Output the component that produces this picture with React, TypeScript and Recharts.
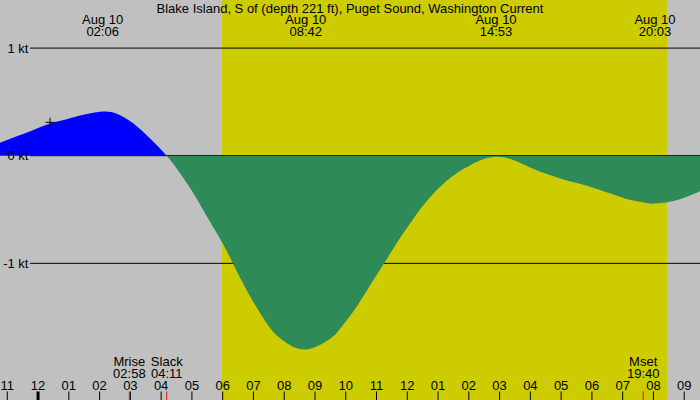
import React from 'react';
import {
  ComposedChart,
  Area,
  XAxis,
  YAxis,
  CartesianGrid,
  ReferenceDot,
} from 'recharts';

const TITLE = 'Blake Island, S of (depth 221 ft), Puget Sound, Washington Current';
const DATE_LABEL = 'Aug 10';

// hours since midnight Aug 10
const TIMES = [
  -1.24, -0.69, -0.15, 0.39, 0.93, 1.47, 2.1, 2.56, 3.1, 3.64, 4.18, 4.61, 5.05, 5.48,
  5.97, 6.35, 6.78, 7.21, 7.54, 7.97, 8.71, 9.49, 9.81, 10.36, 10.9, 11.25, 11.66, 12.09,
  12.52, 13.06, 13.61, 14.04, 14.36, 14.88, 15.45, 15.99, 16.53, 17.07, 17.61, 18.16,
  18.7, 19.24, 19.78, 20.05, 20.65, 21.19, 21.52,
];
// current speed, knots
const SPEEDS = [
  0.12, 0.18, 0.24, 0.3, 0.34, 0.38, 0.41, 0.39, 0.3, 0.16, 0, -0.16, -0.35, -0.56,
  -0.8, -1.01, -1.25, -1.46, -1.6, -1.72, -1.8, -1.7, -1.61, -1.4, -1.155, -1.0, -0.81, -0.63,
  -0.46, -0.29, -0.16, -0.09, -0.045, -0.01, -0.04, -0.11, -0.17, -0.22, -0.26, -0.31,
  -0.36, -0.41, -0.44, -0.445, -0.42, -0.37, -0.33,
];

const HOUR_TICKS = [-1, 0, 1, 2, 3, 4, 5, 6, 7, 8, 9, 10, 11, 12, 13, 14, 15, 16, 17, 18, 19, 20, 21];
const KT_LEVELS = [1, 0, -1];
const KT_LABELS = ['1 kt', '0 kt', '-1 kt'];

const EXTREMA_TIMES = [2.1, 8.7, 14.883, 20.05];
const EXTREMA_LABELS = ['02:06', '08:42', '14:53', '20:03'];

const EVENT_TIMES = [2.967, 4.183, 19.667];
const EVENT_NAMES = ['Mrise', 'Slack', 'Mset'];
const EVENT_LABELS = ['02:58', '04:11', '19:40'];

const SUNRISE = 5.98;
const SUNSET = 20.44;

const MARK_TIME = 0.39;
const MARK_SPEED = 0.31;

const X_DOMAIN: [number, number] = [-1.237, 21.513];
const Y_DOMAIN: [number, number] = [-2.27, 1.447];

const W = 700;
const H = 400;
const AX = 20;
const FONT = '"Liberation Sans", Arial, sans-serif';
const FS = 13;

const data = TIMES.map((t, i) => ({ t, v: SPEEDS[i] }));
const maxV = Math.max(...SPEEDS);
const minV = Math.min(...SPEEDS);
const zeroOffset = maxV / (maxV - minV);

const pad2 = (n: number) => (n < 10 ? '0' + n : '' + n);
const hourLabel = (v: number) => {
  let h = ((v % 12) + 12) % 12;
  if (h === 0) h = 12;
  return pad2(h);
};

const Txt = (p: any) => (
  <text x={p.x} y={p.y} textAnchor={p.anchor || 'middle'} fontSize={FS} fontFamily={FONT} fill="#000">
    {p.children}
  </text>
);

const BottomTick = (props: any) => {
  const { x, payload } = props;
  const v = payload.value;
  const ei = EVENT_TIMES.indexOf(v);
  if (ei >= 0) {
    return (
      <g>
        <line x1={x} x2={x} y1={H - 8.5} y2={H} stroke="#ff0000" strokeWidth={1} />
        <Txt x={x} y={H - 34}>{EVENT_NAMES[ei]}</Txt>
        <Txt x={x} y={H - 21.7}>{EVENT_LABELS[ei]}</Txt>
      </g>
    );
  }
  return (
    <g>
      <line x1={x} x2={x} y1={H - 8.5} y2={H} stroke="#000" strokeWidth={v === 0 ? 3 : 1} />
      <Txt x={x} y={H - 10}>{hourLabel(v)}</Txt>
    </g>
  );
};

const TopTick = (props: any) => {
  const { x, payload } = props;
  const i = EXTREMA_TIMES.indexOf(payload.value);
  return (
    <g>
      <Txt x={x} y={24.3}>{DATE_LABEL}</Txt>
      <Txt x={x} y={36}>{EXTREMA_LABELS[i]}</Txt>
    </g>
  );
};

const KtTick = (props: any) => {
  const { y, payload } = props;
  const i = KT_LEVELS.indexOf(payload.value);
  return (
    <Txt x={28.5} y={y + 4.7} anchor="end">
      {KT_LABELS[i]}
    </Txt>
  );
};

const LevelLine = (props: any) => {
  const { x1, x2, y1 } = props;
  return <line x1={Math.min(x1, x2) + 30} x2={Math.max(x1, x2)} y1={y1} y2={y1} stroke="#000" strokeWidth={1} />;
};

const NoLine = () => <g />;

const PlusMark = (props: any) => {
  const { cx, cy } = props;
  return <path d={`M${cx - 4.5},${cy}h9M${cx},${cy - 4.5}v9`} stroke="#000" strokeWidth={1} fill="none" />;
};

const applyScale = (axis: any, v: number) => {
  const s = axis && axis.scale;
  if (typeof s === 'function') {
    const r = s(v);
    if (typeof r === 'number' && !isNaN(r)) return r;
  }
  if (s && typeof s.map === 'function') {
    const r = s.map(v);
    if (typeof r === 'number' && !isNaN(r)) return r;
  }
  return NaN;
};

const daylightBounds = (args: any) =>
  [SUNRISE, SUNSET].map((t) => {
    const r = applyScale(args.xAxis, t);
    if (!isNaN(r)) return r;
    const off = args.offset || { left: 0, width: args.width };
    return off.left + ((t - X_DOMAIN[0]) / (X_DOMAIN[1] - X_DOMAIN[0])) * off.width;
  });

const levelRows = (args: any) =>
  KT_LEVELS.map((k) => {
    const r = applyScale(args.yAxis, k);
    if (!isNaN(r)) return r;
    const off = args.offset || { top: 0, height: args.height };
    return off.top + ((Y_DOMAIN[1] - k) / (Y_DOMAIN[1] - Y_DOMAIN[0])) * off.height;
  });

export default function App() {
  return (
    <div style={{ width: W, height: H, background: '#c0c0c0', position: 'relative' }}>
      <style>{'body{margin:0;}'}</style>
      <ComposedChart width={W} height={H} data={data} margin={{ top: -AX, right: 0, bottom: -AX, left: -30 }}>
        <defs>
          <linearGradient id="flowFill" x1="0" y1="0" x2="0" y2="1">
            <stop offset={0} stopColor="#0000ff" />
            <stop offset={zeroOffset} stopColor="#0000ff" />
            <stop offset={zeroOffset} stopColor="#2e8b57" />
            <stop offset={1} stopColor="#2e8b57" />
          </linearGradient>
        </defs>
        <CartesianGrid
          verticalCoordinatesGenerator={daylightBounds}
          horizontalCoordinatesGenerator={levelRows}
          verticalFill={['#c0c0c0', '#cccc00', '#c0c0c0']}
          fillOpacity={1}
          vertical={<NoLine />}
          horizontal={<LevelLine />}
          stroke="#000"
        />
        <XAxis
          dataKey="t"
          type="number"
          domain={X_DOMAIN}
          allowDataOverflow
          ticks={[...HOUR_TICKS, ...EVENT_TIMES]}
          interval={0}
          tick={<BottomTick />}
          axisLine={false}
          tickLine={false}
          height={AX}
        />
        <XAxis
          xAxisId="top"
          dataKey="t"
          orientation="top"
          type="number"
          domain={X_DOMAIN}
          allowDataOverflow
          ticks={EXTREMA_TIMES}
          interval={0}
          tick={<TopTick />}
          axisLine={false}
          tickLine={false}
          height={AX}
        />
        <YAxis
          type="number"
          domain={Y_DOMAIN}
          allowDataOverflow
          ticks={KT_LEVELS}
          interval={0}
          tick={<KtTick />}
          axisLine={false}
          tickLine={false}
          width={30}
        />
        <Area
          type="natural"
          dataKey="v"
          baseValue={0}
          stroke="none"
          fill="url(#flowFill)"
          fillOpacity={1}
          isAnimationActive={false}
          dot={false}
          activeDot={false}
        />
        <ReferenceDot x={MARK_TIME} y={MARK_SPEED} r={4.5} shape={<PlusMark />} />
        <text x={W / 2} y={12.5} textAnchor="middle" fontSize={FS} fontFamily={FONT} fill="#000">
          {TITLE}
        </text>
      </ComposedChart>
    </div>
  );
}
